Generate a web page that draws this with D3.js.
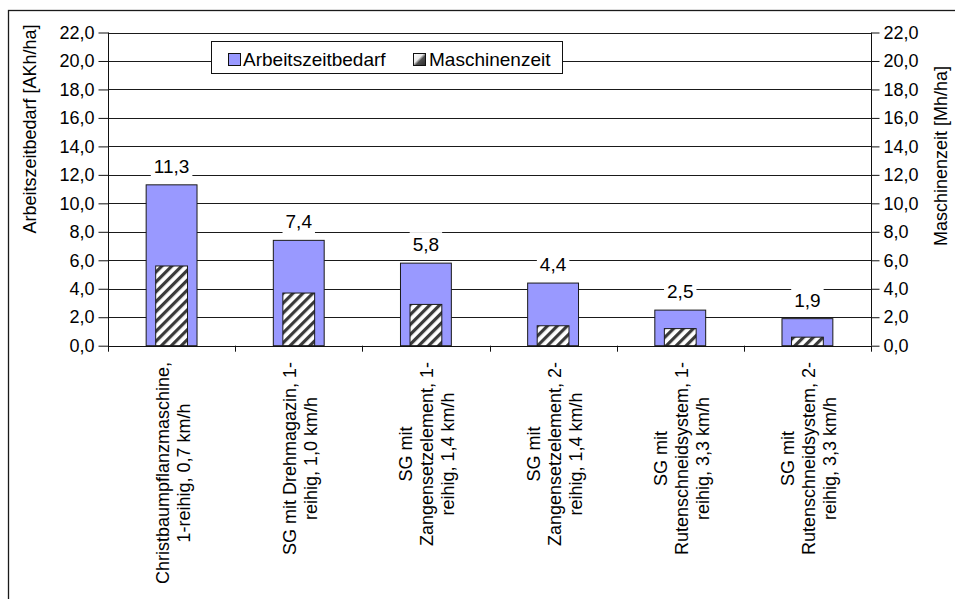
<!DOCTYPE html>
<html>
<head>
<meta charset="utf-8">
<script src="https://cdn.jsdelivr.net/npm/d3@7"></script>
<style>
  html, body { margin: 0; padding: 0; background: #fff; }
  svg { display: block; font-family: Arial, "Liberation Sans", sans-serif; }
</style>
</head>
<body>
<svg id="chart" width="955" height="599"></svg>
<script>
const categories = [
  ["Christbaumpflanzmaschine,", "1-reihig, 0,7 km/h"],
  ["SG mit Drehmagazin, 1-", "reihig, 1,0 km/h"],
  ["SG mit", "Zangensetzelement, 1-", "reihig, 1,4 km/h"],
  ["SG mit", "Zangensetzelement, 2-", "reihig, 1,4 km/h"],
  ["SG mit", "Rutenschneidsystem, 1-", "reihig, 3,3 km/h"],
  ["SG mit", "Rutenschneidsystem, 2-", "reihig, 3,3 km/h"]
];
const arbeitszeit = [11.3, 7.4, 5.8, 4.4, 2.5, 1.9];
const maschinenzeit = [5.6, 3.7, 2.9, 1.4, 1.2, 0.6];
const yTicks = [0, 2, 4, 6, 8, 10, 12, 14, 16, 18, 20, 22];
const seriesNames = ["Arbeitszeitbedarf", "Maschinenzeit"];
const yTitleLeft = "Arbeitszeitbedarf [AKh/ha]";
const yTitleRight = "Maschinenzeit [Mh/ha]";

const svg = d3.select("#chart");
const fmt = v => d3.format(".1f")(v).replace(".", ",");

const plot = { left: 108, right: 871, top: 32.5, bottom: 345.7 };
const FS = 18;
const FS_L = 19;

const x = d3.scaleBand().domain(d3.range(categories.length)).range([plot.left, plot.right]).padding(0);
const y = d3.scaleLinear().domain([0, 22]).range([plot.bottom, plot.top]);
const y2 = d3.scaleLinear().domain([0, 22]).range([plot.bottom, plot.top]);

// defs
const defs = svg.append("defs");
const pat = defs.append("pattern").attr("id", "hatch").attr("patternUnits", "userSpaceOnUse")
  .attr("width", 7).attr("height", 7).attr("patternTransform", "rotate(45)");
pat.append("rect").attr("width", 7).attr("height", 7).attr("fill", "#ffffff");
pat.append("rect").attr("x", 0).attr("width", 3.2).attr("height", 7).attr("fill", "#3a3a3a");
const grad = defs.append("linearGradient").attr("id", "legGrad")
  .attr("x1", 0).attr("y1", 0).attr("x2", 1).attr("y2", 1);
grad.append("stop").attr("offset", 0).attr("stop-color", "#ffffff");
grad.append("stop").attr("offset", 0.42).attr("stop-color", "#e8e8e8");
grad.append("stop").attr("offset", 0.58).attr("stop-color", "#505050");
grad.append("stop").attr("offset", 1).attr("stop-color", "#2a2a2a");

// outer frame
svg.append("rect").attr("x", 8.5).attr("y", 10.5).attr("width", 960).attr("height", 600)
  .attr("fill", "none").attr("stroke", "#1a1a1a").attr("stroke-width", 1.3);

// gridlines
svg.append("g").selectAll("line").data(yTicks.filter(d => d > 0)).join("line")
  .attr("x1", plot.left).attr("x2", plot.right)
  .attr("y1", d => Math.round(y(d)) + 0.5).attr("y2", d => Math.round(y(d)) + 0.5)
  .attr("stroke", "#1a1a1a").attr("stroke-width", 1);

// left axis
const leftAxis = d3.axisLeft(y).tickValues(yTicks).tickFormat(fmt).tickSize(10).tickPadding(4);
const gL = svg.append("g").attr("transform", `translate(${plot.left + 0.5},0)`).call(leftAxis);
// right axis
const rightAxis = d3.axisRight(y2).tickValues(yTicks).tickFormat(fmt).tickSize(8).tickPadding(4);
const gR = svg.append("g").attr("transform", `translate(${plot.right + 0.5},0)`).call(rightAxis);
[gL, gR].forEach(g => {
  g.selectAll(".tick line").attr("stroke", "#111");
  g.selectAll(".tick text").attr("font-size", FS).attr("fill", "#000")
    .attr("font-family", "Arial, 'Liberation Sans', sans-serif");
});
gL.select(".domain").remove();
gR.select(".domain").remove();
svg.append("line").attr("x1", plot.left + 0.5).attr("x2", plot.left + 0.5)
  .attr("y1", plot.top).attr("y2", plot.bottom + 5).attr("stroke", "#111");
svg.append("line").attr("x1", plot.right + 0.5).attr("x2", plot.right + 0.5)
  .attr("y1", plot.top).attr("y2", plot.bottom).attr("stroke", "#111");

// bars
const bw1 = x.bandwidth() * 0.40;
const bw2 = x.bandwidth() * 0.25;
svg.append("g").selectAll("rect").data(arbeitszeit).join("rect")
  .attr("x", (d, i) => x(i) + x.bandwidth() / 2 - bw1 / 2)
  .attr("width", bw1)
  .attr("y", d => y(d))
  .attr("height", d => y(0) - y(d))
  .attr("fill", "#9999FF").attr("stroke", "#1a1a1a").attr("stroke-width", 1);
svg.append("g").selectAll("rect").data(maschinenzeit).join("rect")
  .attr("x", (d, i) => x(i) + x.bandwidth() / 2 - bw2 / 2)
  .attr("width", bw2)
  .attr("y", d => y2(d))
  .attr("height", d => y2(0) - y2(d))
  .attr("fill", "url(#hatch)").attr("stroke", "#1a1a1a").attr("stroke-width", 1);

// x axis line and ticks
svg.append("line").attr("x1", plot.left).attr("x2", plot.right)
  .attr("y1", Math.round(plot.bottom) + 0.5).attr("y2", Math.round(plot.bottom) + 0.5)
  .attr("stroke", "#111");
svg.append("g").selectAll("line").data(d3.range(categories.length + 1)).join("line")
  .attr("x1", i => Math.round(plot.left + i * x.bandwidth()) + 0.5)
  .attr("x2", i => Math.round(plot.left + i * x.bandwidth()) + 0.5)
  .attr("y1", plot.bottom).attr("y2", plot.bottom + 6).attr("stroke", "#111");

// data labels with white background
const lblG = svg.append("g");
arbeitszeit.forEach((d, i) => {
  const cx = x(i) + x.bandwidth() / 2;
  const base = y(d) - 12;
  const g = lblG.append("g");
  const bg = g.append("rect").attr("fill", "#fff");
  const t = g.append("text").attr("x", cx).attr("y", base).attr("text-anchor", "middle")
    .attr("font-size", FS_L).attr("fill", "#000").text(fmt(d));
  const w = t.node().getComputedTextLength();
  bg.attr("x", cx - w / 2 - 3).attr("width", w + 6).attr("y", base - 19).attr("height", 24);
});

// category labels (rotated)
const catG = svg.append("g");
categories.forEach((lines, i) => {
  const cx = x(i) + x.bandwidth() / 2 + 1;
  const top = 362;
  const g = catG.append("g").attr("transform", `translate(${cx},${top}) rotate(-90)`);
  const texts = lines.map((ln, k) => g.append("text")
    .attr("text-anchor", "middle").attr("font-size", FS).attr("fill", "#000")
    .attr("y", (k - (lines.length - 1) / 2) * 21 + 6.5).text(ln));
  const maxW = d3.max(texts, t => t.node().getComputedTextLength());
  texts.forEach(t => t.attr("x", -maxW / 2));
});

// axis titles
svg.append("text").attr("transform", `translate(36,129) rotate(-90)`)
  .attr("text-anchor", "middle").attr("font-size", FS).attr("fill", "#000").text(yTitleLeft);
svg.append("text").attr("transform", `translate(947,156) rotate(-90)`)
  .attr("text-anchor", "middle").attr("font-size", FS).attr("fill", "#000").text(yTitleRight);

// legend
const leg = svg.append("g");
leg.append("rect").attr("x", 211.5).attr("y", 41.5).attr("width", 351).attr("height", 32)
  .attr("fill", "#fff").attr("stroke", "#111").attr("stroke-width", 1);
leg.append("rect").attr("x", 228.5).attr("y", 53.5).attr("width", 12).attr("height", 12)
  .attr("fill", "#9999FF").attr("stroke", "#111");
leg.append("text").attr("x", 243).attr("y", 66).attr("font-size", FS_L).attr("fill", "#000").text(seriesNames[0]);
leg.append("rect").attr("x", 413.5).attr("y", 53.5).attr("width", 12).attr("height", 12)
  .attr("fill", "url(#legGrad)").attr("stroke", "#111");
leg.append("text").attr("x", 429).attr("y", 66).attr("font-size", FS_L).attr("fill", "#000").text(seriesNames[1]);
</script>
</body>
</html>
